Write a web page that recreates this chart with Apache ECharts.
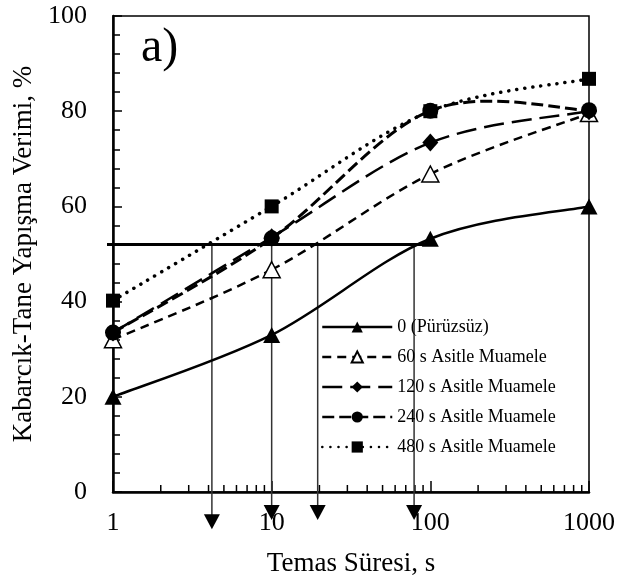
<!DOCTYPE html>
<html>
<head>
<meta charset="utf-8">
<script src="https://cdn.jsdelivr.net/npm/echarts@6/dist/echarts.min.js"></script>
<style>
  html, body { margin: 0; padding: 0; background: #fff; }
  #chart { width: 632px; height: 586px; }
</style>
</head>
<body>
<div id="chart"></div>
<script>
// Temas suresi (s) ve verim (%) verileri
var contactTimes = [1, 10, 100, 1000];
var smooth0 = [20, 33, 53.2, 60];
var acid60 = [32, 46.7, 66.8, 79.5];
var acid120 = [33.5, 53.5, 73.4, 80];
var acid240 = [33.5, 53.3, 80.1, 80.2];
var acid480 = [40.2, 60, 80, 86.8];
var seriesNames = ['0 (Pürüzsüz)', '60 s Asitle Muamele', '120 s Asitle Muamele', '240 s Asitle Muamele', '480 s Asitle Muamele'];

// yatay referans cizgisi ve oklar
var refLevel = 52;
var refStart = 1;
var refEnd = 100;
var arrowX = [4.2, 10, 19.5, 79];
var arrowTip = [-7.8, -5.9, -5.9, -5.9];

// log eksen ara tikleri
var xMinorTicks = [2, 3, 4, 5, 6, 7, 8, 9, 20, 30, 40, 50, 60, 70, 80, 90, 200, 300, 400, 500, 600, 700, 800, 900];
var xTickLabels = ['1', '10', '100', '1000'];

var FONT = 'Liberation Serif';

function pairs(ys) {
    return contactTimes.map(function (x, i) { return [x, ys[i]]; });
}

// Excel tarzi yumusak egri (Catmull-Rom -> Bezier), piksel uzayinda
function curveSeries(ys, width, dash, cap, z) {
    return {
        type: 'custom',
        silent: true,
        clip: true,
        data: pairs(ys),
        z: z,
        renderItem: function (params, api) {
            var i = params.dataIndex;
            var n = ys.length;
            if (i >= n - 1) return { type: 'group', children: [] };
            function pt(k) {
                k = Math.max(0, Math.min(n - 1, k));
                return api.coord([contactTimes[k], ys[k]]);
            }
            var p0 = pt(i - 1), p1 = pt(i), p2 = pt(i + 1), p3 = pt(i + 2);
            return {
                type: 'bezierCurve',
                shape: {
                    x1: p1[0], y1: p1[1],
                    x2: p2[0], y2: p2[1],
                    cpx1: p1[0] + (p2[0] - p0[0]) / 6,
                    cpy1: p1[1] + (p2[1] - p0[1]) / 6,
                    cpx2: p2[0] - (p3[0] - p1[0]) / 6,
                    cpy2: p2[1] - (p3[1] - p1[1]) / 6
                },
                style: { stroke: '#000', fill: 'none', lineWidth: width, lineDash: dash, lineCap: cap || 'butt' }
            };
        }
    };
}

// marker + legend icin (cizgi gorunmez, egriyi custom seri ciziyor)
function markerSeries(name, ys, symbol, size, itemStyle, lineStyle, z) {
    lineStyle.opacity = 0;
    return {
        name: name,
        type: 'line',
        data: pairs(ys),
        symbol: symbol,
        symbolSize: size,
        itemStyle: itemStyle,
        lineStyle: lineStyle,
        z: z
    };
}

function initChart() {
    var chartDom = document.getElementById('chart');
    var myChart = echarts.init(chartDom);

    var option = {
        animation: false,
        textStyle: { fontFamily: FONT, color: '#000' },
        grid: {
            left: 113,
            right: 43,
            top: 16,
            bottom: 94,
            show: true,
            borderColor: '#000',
            borderWidth: 1.5
        },
        graphic: [
            {
                type: 'text',
                left: 141,
                top: 24,
                style: { text: 'a)', font: '48px "Liberation Serif"', fill: '#000' }
            }
        ],
        legend: {
            data: seriesNames,
            orient: 'vertical',
            left: 316,
            top: 313,
            itemWidth: 70,
            itemHeight: 14,
            itemGap: 12,
            textStyle: { fontFamily: FONT, fontSize: 18, color: '#000' },
            lineStyle: { opacity: 1, width: 2.5 }
        },
        xAxis: {
            type: 'log',
            logBase: 10,
            min: 1,
            max: 1000,
            name: 'Temas Süresi, s',
            nameLocation: 'middle',
            nameGap: 58,
            nameTextStyle: { fontFamily: FONT, fontSize: 27, color: '#000' },
            axisLine: { lineStyle: { color: '#000', width: 2.5 } },
            axisTick: { inside: true, length: 11, lineStyle: { color: '#000', width: 1.5 } },
            minorTick: { show: false },
            splitLine: { show: false },
            axisLabel: {
                fontFamily: FONT,
                fontSize: 26,
                color: '#000',
                margin: 18,
                formatter: function (v) {
                    var s = String(Math.round(v));
                    return xTickLabels.indexOf(s) >= 0 ? s : '';
                }
            }
        },
        yAxis: {
            type: 'value',
            min: 0,
            max: 100,
            interval: 20,
            name: 'Kabarcık-Tane Yapışma Verimi, %',
            nameLocation: 'middle',
            nameGap: 65,
            nameTextStyle: { fontFamily: FONT, fontSize: 27, color: '#000' },
            axisLine: { show: true, lineStyle: { color: '#000', width: 2.5 } },
            axisTick: { show: true, inside: true, length: 9, lineStyle: { color: '#000', width: 1.5 } },
            minorTick: { show: true, splitNumber: 5, length: 7, lineStyle: { color: '#000', width: 1.5 } },
            splitLine: { show: false },
            axisLabel: { fontFamily: FONT, fontSize: 26, color: '#000', margin: 26 }
        },
        series: [
            {
                name: 'minorTicks',
                type: 'custom',
                silent: true,
                data: xMinorTicks.map(function (v) { return [v, 0]; }),
                renderItem: function (params, api) {
                    var p = api.coord([api.value(0), api.value(1)]);
                    return {
                        type: 'line',
                        shape: { x1: p[0], y1: p[1], x2: p[0], y2: p[1] - 7 },
                        style: { stroke: '#000', lineWidth: 1.5 }
                    };
                },
                z: 1
            },
            {
                name: 'arrows',
                type: 'custom',
                silent: true,
                clip: false,
                data: arrowX.map(function (x, i) { return [x, refLevel, arrowTip[i]]; }),
                renderItem: function (params, api) {
                    var top = api.coord([api.value(0), api.value(1)]);
                    var tip = api.coord([api.value(0), api.value(2)]);
                    return {
                        type: 'group',
                        children: [
                            {
                                type: 'line',
                                shape: { x1: top[0], y1: top[1], x2: tip[0], y2: tip[1] - 4 },
                                style: { stroke: '#333', lineWidth: 1.5 }
                            },
                            {
                                type: 'polygon',
                                shape: { points: [[tip[0] - 8, tip[1] - 15], [tip[0] + 8, tip[1] - 15], [tip[0], tip[1]]] },
                                style: { fill: '#000' }
                            }
                        ]
                    };
                },
                z: 2
            },
            {
                name: 'ref',
                type: 'custom',
                silent: true,
                clip: false,
                data: [[refStart, refLevel, refEnd]],
                renderItem: function (params, api) {
                    var a = api.coord([api.value(0), api.value(1)]);
                    var b = api.coord([api.value(2), api.value(1)]);
                    return {
                        type: 'line',
                        shape: { x1: a[0] - 6, y1: a[1], x2: b[0], y2: b[1] },
                        style: { stroke: '#000', lineWidth: 3 }
                    };
                },
                z: 2
            },
            curveSeries(smooth0, 2.5, null, 'butt', 3),
            curveSeries(acid60, 2.5, [9, 6], 'butt', 3),
            curveSeries(acid120, 2.5, [20, 8], 'butt', 3),
            curveSeries(acid240, 3, [12, 5], 'butt', 3),
            curveSeries(acid480, 3.5, [0.1, 8], 'round', 3),
            markerSeries(seriesNames[0], smooth0, 'triangle', [17, 16],
                { color: '#000' }, { color: '#000', width: 2.5, type: 'solid' }, 4),
            markerSeries(seriesNames[1], acid60, 'triangle', [17, 16],
                { color: '#fff', borderColor: '#000', borderWidth: 1.5 }, { color: '#000', width: 2.5, type: [9, 6] }, 5),
            markerSeries(seriesNames[2], acid120, 'diamond', [16, 18],
                { color: '#000' }, { color: '#000', width: 2.5, type: [20, 8] }, 6),
            markerSeries(seriesNames[3], acid240, 'circle', 16,
                { color: '#000' }, { color: '#000', width: 3, type: [12, 5] }, 7),
            markerSeries(seriesNames[4], acid480, 'rect', 14,
                { color: '#000' }, { color: '#000', width: 3.5, type: [0.1, 8], cap: 'round' }, 8)
        ]
    };

    myChart.setOption(option);

    window.addEventListener('resize', function () {
        myChart.resize();
    });
}

document.addEventListener('DOMContentLoaded', function () {
    initChart();
});
</script>
</body>
</html>
